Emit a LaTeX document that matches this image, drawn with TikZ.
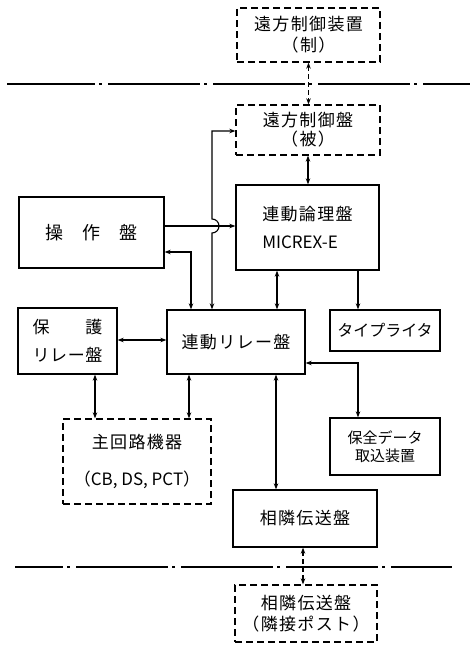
\documentclass[tikz,border=0pt]{standalone}
\usepackage{fontspec}
\newfontfamily\jp[LetterSpace=8]{Noto Sans CJK JP}
\newfontfamily\jpn{Noto Sans CJK JP}
\usetikzlibrary{arrows.meta}
\begin{document}
\begin{tikzpicture}[x=1pt,y=-1pt,
  box/.style={draw, line width=1.3pt, inner sep=0pt, align=center,
    font=\jp\fontsize{17}{21}\selectfont},
  dbox/.style={box, dash pattern=on 7pt off 4pt},
  tip/.tip={Stealth[length=6pt,width=4.5pt]},
  conn/.style={line width=1.1pt},
  both/.style={conn, tip-tip},
  one/.style={conn, -tip},
  dconn/.style={both, dash pattern=on 5pt off 3pt},
  border/.style={line width=1.2pt}
]
\useasboundingbox[fill=white] (0,0) rectangle (471,645);

% boundary lines
\draw[border, dash pattern=on 92pt off 4pt on 3pt off 6pt, dash phase=4pt] (7,84) -- (470,84);
\draw[border, dash pattern=on 92pt off 4pt on 3pt off 6pt, dash phase=44pt] (15,567) -- (452,567);

% boxes
\node[dbox, minimum width=143pt, minimum height=54pt] (A) at (308.5,35)
  {遠方制御装置\\（制）};
\node[dbox, minimum width=144pt, minimum height=50pt, font=\jp\fontsize{17}{19}\selectfont] (B) at (308,130)
  {遠方制御盤\\（被）};
\node[box, minimum width=143pt, minimum height=85pt, align=left, font=\jp\fontsize{17}{28}\selectfont] (C) at (307.5,227.5)
  {連動論理盤\\{\jpn MICREX-E}};
\node[box, minimum width=145pt, minimum height=71pt, font=\jpn\fontsize{18}{21}\selectfont] (D) at (91.5,232.5)
  {操\hspace{19pt}作\hspace{19pt}盤};
\node[box, minimum width=138pt, minimum height=64pt] (E) at (236,342)
  {連動リレー盤};
\node[box, minimum width=110pt, minimum height=41pt, font=\jpn\fontsize{16}{20}\selectfont] (F) at (385,330.5)
  {タイプライタ};
\node[box, minimum width=99pt, minimum height=66pt, font=\jpn\fontsize{17}{28}\selectfont] (G) at (67.5,341)
  {\makebox[70pt][s]{保\hfill 護}\\\makebox[70pt][s]{リ\hfill レ\hfill ー\hfill 盤}};
\node[dbox, minimum width=148pt, minimum height=85pt, font=\jp\fontsize{17}{37}\selectfont] (H) at (137,461.5)
  {主回路機器\\{\jpn （CB, DS, PCT）}};
\node[box, minimum width=144pt, minimum height=57pt] (J) at (305,518.5)
  {相隣伝送盤};
\node[box, minimum width=110pt, minimum height=57pt, font=\jpn\fontsize{15}{18}\selectfont] (K) at (385,446.5)
  {保全データ\\取込装置};
\node[dbox, minimum width=142pt, minimum height=57pt, font=\jp\fontsize{17}{21}\selectfont] (L) at (306,613.5)
  {相隣伝送盤\\（隣接ポスト）};

% helper coordinates
\coordinate (hopx) at (212,226);
\coordinate (by) at (212,131);

% connectors
\draw[dconn] (A.south) -- (A.south |- B.north);
\draw[both] (B.south) -- (B.south |- C.north);
\draw[one] (D.east |- hopx) -- (C.west |- hopx);
\draw[both] (E.north -| hopx) -- ([yshift=-7pt]hopx) arc[start angle=-90, end angle=90, radius=7pt]
  -- (by) -- (B.west |- by);
\draw[both] (D.east |- 0,252) -| (E.north -| 191,0);
\draw[both] (C.south -| 277,0) -- (E.north -| 277,0);
\draw[one] (C.south -| 358,0) -- (F.north -| 358,0);
\draw[both] (G.east |- 0,340) -- (E.west |- 0,340);
\draw[both] (G.south -| 95,0) -- (H.north -| 95,0);
\draw[both] (E.south -| 189,0) -- (H.north -| 189,0);
\draw[both] (E.south -| 276,0) -- (J.north -| 276,0);
\draw[both] (E.east |- 0,363) -| (K.north -| 358,0);
\draw[dconn] (J.south -| 303,0) -- (L.north -| 303,0);
\end{tikzpicture}
\end{document}
